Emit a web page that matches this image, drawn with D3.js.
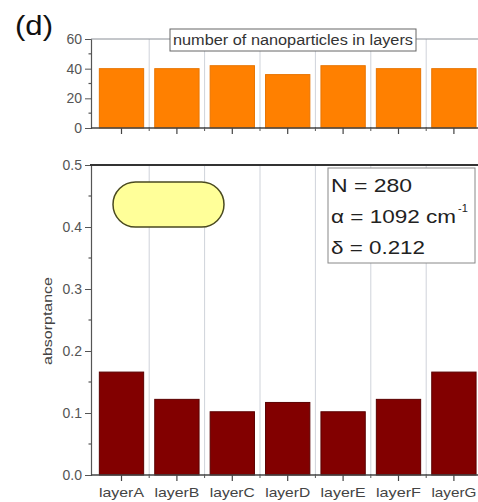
<!DOCTYPE html>
<html>
<head>
<meta charset="utf-8">
<script src="https://cdn.jsdelivr.net/npm/d3@7"></script>
<style>
  html, body { margin: 0; padding: 0; background: #fff; }
  svg { display: block; font-family: "Liberation Sans", Arial, sans-serif; }
</style>
</head>
<body>
<svg id="chart" width="478" height="502"></svg>
<script>
// Layer names and measured quantities per layer
const layers = ["layerA", "layerB", "layerC", "layerD", "layerE", "layerF", "layerG"];
const particleCounts = [40, 40, 42, 36, 42, 40, 40];
const absorptance = [0.166, 0.122, 0.102, 0.117, 0.102, 0.122, 0.166];
const countTicks = [0, 20, 40, 60];
const absTicks = [0.0, 0.1, 0.2, 0.3, 0.4, 0.5];
const statLines = ["N = 280", "α = 1092 cm", "δ = 0.212"];

const svg = d3.select("#chart");
const axisX = 91;

const x = d3.scaleBand().domain(layers).range([93.8, 481.6]).paddingInner(0.2).paddingOuter(0.1);
const step = x.step();
const yTop = d3.scaleLinear().domain([0, 60]).range([128, 39]);
const yBot = d3.scaleLinear().domain([0, 0.5]).range([475, 165]);

// Panel label
svg.append("text").attr("x", 15).attr("y", 35)
  .attr("font-size", 27).attr("fill", "#111")
  .attr("textLength", 38).attr("lengthAdjust", "spacingAndGlyphs")
  .text("(d)");

function panel(y, values, color, stroke, ticks, fmt, minorTicks) {
  const g = svg.append("g");
  const [y0, y1] = y.range();
  // vertical separators between layers
  g.selectAll("line.sep").data(layers.slice(1)).join("line")
    .attr("x1", d => x(d) - step * 0.1).attr("x2", d => x(d) - step * 0.1)
    .attr("y1", y1).attr("y2", y0)
    .attr("stroke", "#cfd3da").attr("stroke-width", 1);
  // bars
  g.selectAll("rect.bar").data(layers).join("rect")
    .attr("x", d => x(d)).attr("width", x.bandwidth())
    .attr("y", (d, i) => y(values[i]))
    .attr("height", (d, i) => y0 - y(values[i]))
    .attr("fill", color).attr("stroke", stroke).attr("stroke-width", 1);
  // left axis
  const ax = g.append("g").attr("transform", `translate(${axisX},0)`)
    .call(d3.axisLeft(y).tickValues(ticks).tickFormat(fmt).tickSize(6).tickPadding(3));
  ax.select(".domain").attr("stroke", "#555").attr("stroke-width", 1.2);
  ax.selectAll(".tick line").attr("stroke", "#555");
  ax.selectAll(".tick text").attr("fill", "#555").attr("font-size", 14)
    .attr("font-family", "'Liberation Sans', Arial, sans-serif");
  g.selectAll("line.minor").data(minorTicks).join("line")
    .attr("x1", axisX - 2.5).attr("x2", axisX + 1)
    .attr("y1", d => y(d)).attr("y2", d => y(d))
    .attr("stroke", "#555").attr("stroke-width", 1.2);
  // bottom axis with ticks at layer centres
  g.append("line").attr("x1", axisX).attr("x2", 478).attr("y1", y0).attr("y2", y0)
    .attr("stroke", "#444").attr("stroke-width", 1.6);
  g.selectAll("line.xt").data(layers).join("line")
    .attr("x1", d => x(d) + x.bandwidth() / 2).attr("x2", d => x(d) + x.bandwidth() / 2)
    .attr("y1", y0).attr("y2", y0 + 6).attr("stroke", "#444").attr("stroke-width", 1.2);
  g.selectAll("line.xm").data(layers.slice(1)).join("line")
    .attr("x1", d => x(d) - step * 0.1).attr("x2", d => x(d) - step * 0.1)
    .attr("y1", y0 - 1).attr("y2", y0 + 3).attr("stroke", "#555").attr("stroke-width", 1);
  return g;
}

// Upper panel: number of nanoparticles per layer
panel(yTop, particleCounts, "#ff8000", "#e87400", countTicks, d3.format("d"), [10, 30, 50]);
svg.append("line").attr("x1", axisX).attr("x2", 478).attr("y1", yTop(60)).attr("y2", yTop(60))
  .attr("stroke", "#8a8f96").attr("stroke-width", 1);

const legend = svg.append("g");
legend.append("rect").attr("x", 170).attr("y", 29).attr("width", 246).attr("height", 22)
  .attr("fill", "#fff").attr("stroke", "#666").attr("stroke-width", 1);
legend.append("text").attr("x", 173).attr("y", 45).attr("font-size", 14).attr("fill", "#333")
  .attr("textLength", 240).attr("lengthAdjust", "spacingAndGlyphs")
  .text("number of nanoparticles in layers");

// Lower panel: absorptance per layer
panel(yBot, absorptance, "#820000", "#5a0000", absTicks, d3.format(".1f"),
  [0.05, 0.15, 0.25, 0.35, 0.45]);
svg.append("line").attr("x1", axisX - 1).attr("x2", 478).attr("y1", yBot(0.5)).attr("y2", yBot(0.5))
  .attr("stroke", "#333").attr("stroke-width", 2);

svg.append("g").selectAll("text").data(layers).join("text")
  .attr("x", d => x(d) + x.bandwidth() / 2).attr("y", 497)
  .attr("text-anchor", "middle").attr("font-size", 13).attr("fill", "#444")
  .attr("textLength", 45).attr("lengthAdjust", "spacingAndGlyphs")
  .text(d => d);

svg.append("text")
  .attr("transform", `translate(52,321) rotate(-90)`)
  .attr("text-anchor", "middle").attr("font-size", 13).attr("fill", "#444")
  .attr("textLength", 88).attr("lengthAdjust", "spacingAndGlyphs")
  .text("absorptance");

// Yellow rounded marker
svg.append("rect").attr("x", 113).attr("y", 182).attr("width", 111).attr("height", 45)
  .attr("rx", 22.5).attr("ry", 22.5)
  .attr("fill", "#ffff99").attr("stroke", "#4a4a20").attr("stroke-width", 1.5);

// Model parameters box
const stats = svg.append("g");
stats.append("rect").attr("x", 328).attr("y", 168).attr("width", 147).attr("height", 95)
  .attr("fill", "#fff").attr("stroke", "#888").attr("stroke-width", 1);
const baselines = [192, 223, 254];
const widths = [81, 125, 94];
stats.selectAll("text.s").data(statLines).join("text")
  .attr("x", 331).attr("y", (d, i) => baselines[i])
  .attr("font-size", 19).attr("fill", "#222")
  .attr("textLength", (d, i) => widths[i]).attr("lengthAdjust", "spacingAndGlyphs")
  .text(d => d);
stats.append("text").attr("x", 458).attr("y", 212).attr("font-size", 11).attr("fill", "#222")
  .text("-1");
</script>
</body>
</html>
